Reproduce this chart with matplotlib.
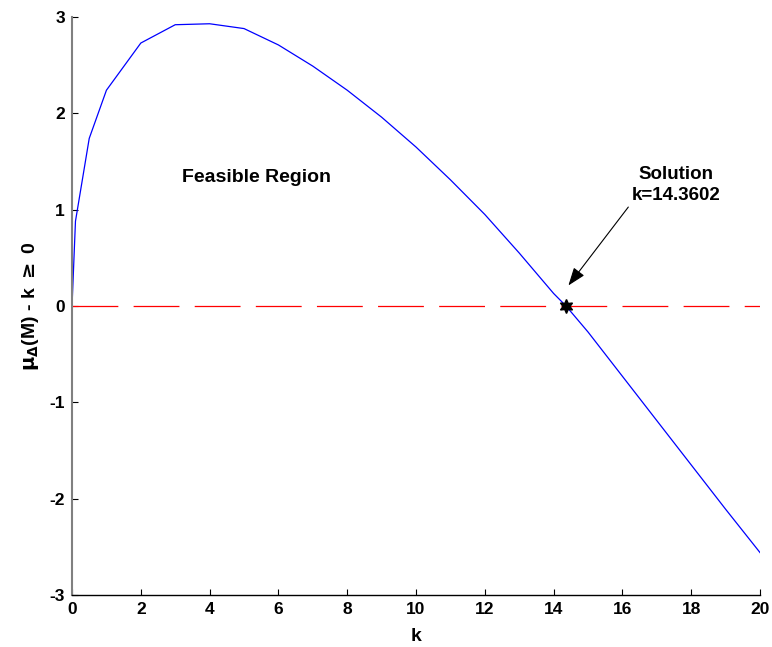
import numpy as np
import matplotlib
matplotlib.use("Agg")
import matplotlib.pyplot as plt

# stability margin curve mu_Delta(M) - k sampled over k
k_vals = [0, 0.1, 0.5, 1, 2, 3, 4, 5, 6, 7, 8, 9, 10, 11, 12, 13, 14, 14.3602,
          15, 16, 17, 18, 19, 20]
margin = [0, 0.88, 1.74, 2.24, 2.73, 2.92, 2.93, 2.88, 2.71, 2.49, 2.24, 1.96,
          1.65, 1.31, 0.95, 0.55, 0.13, 0.0, -0.27, -0.73, -1.19, -1.65, -2.11,
          -2.56]
k_sol = 14.3602
x_ticks = list(range(0, 21, 2))
y_ticks = [-3, -2, -1, 0, 1, 2, 3]

plt.rcParams["lines.scale_dashes"] = False
plt.rcParams["axes.unicode_minus"] = False
FONT = ["Liberation Sans", "DejaVu Sans"]

fig = plt.figure(figsize=(7.72, 6.47), dpi=100)
ax = fig.add_axes([0.0933, 0.0804, 0.8912, 0.8933])

ax.plot(k_vals, margin, color="blue", lw=0.9)
ax.plot([0, 20], [0, 0], color="red", lw=0.9, dashes=(33, 11))
ax.plot([k_sol], [0], marker=(6, 1, 0), color="black", ms=10, ls="none")

ax.annotate("", xy=(14.38, 0.19), xytext=(16.22, 1.05),
            arrowprops=dict(arrowstyle="-|>,head_length=1.1,head_width=0.4",
                            color="black", lw=0.8))
ax.text(17.56, 1.06, "Solution\nk=14.3602", ha="center", va="bottom",
        fontsize=13.5, fontweight="bold", family=FONT, linespacing=1.3)
ax.text(5.35, 1.33, "Feasible Region", ha="center", va="center",
        fontsize=14, fontweight="bold", family=FONT)

ax.set_xlim(0, 20)
ax.set_ylim(-3, 3)
ax.set_xticks(x_ticks)
ax.set_yticks(y_ticks)
ax.tick_params(direction="in", length=4, width=0.8, pad=5)
for lab in ax.get_xticklabels() + ax.get_yticklabels():
    lab.set_fontsize(12.5)
    lab.set_fontweight("bold")
    lab.set_family(FONT)

ax.spines["top"].set_visible(False)
ax.spines["right"].set_visible(False)
ax.spines["left"].set_color("#808080")
ax.spines["left"].set_linewidth(1.5)
ax.spines["bottom"].set_color("black")
ax.spines["bottom"].set_linewidth(1.0)

ax.set_xlabel("k", fontsize=14, fontweight="bold", family=FONT, labelpad=8)
ax.set_ylabel(r"$\mathbf{\mu_{\Delta}}$(M) - k $\mathbf{\geq}$ 0", fontsize=14,
              fontweight="bold", family=FONT, labelpad=6)

fig.savefig("out.png", dpi=100)
